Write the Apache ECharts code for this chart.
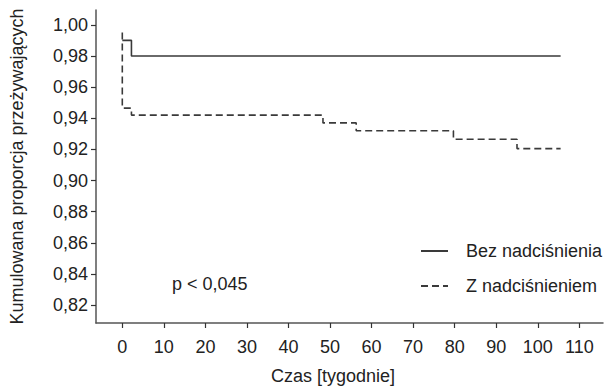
<!DOCTYPE html>
<html>
<head>
<meta charset="utf-8">
<style>html,body{margin:0;padding:0;background:#fff;}#chart{width:604px;height:392px;}</style>
<script src="https://cdn.jsdelivr.net/npm/echarts@6/dist/echarts.min.js"></script>
</head>
<body>
<div id="chart"></div>
<script>
// Data (Kaplan-Meier step curves)
const seriesNames = ['Bez nadciśnienia', 'Z nadciśnieniem'];
const weeksBez = [0, 2.2, 105.5];
const survBez = [0.99, 0.98, 0.98];
const weeksZ = [0, 0, 2.2, 48.3, 56.3, 79.7, 95.0, 105.5];
const survZ = [0.995, 0.9465, 0.942, 0.937, 0.932, 0.9265, 0.9205, 0.9205];
const xTicks = [0, 10, 20, 30, 40, 50, 60, 70, 80, 90, 100, 110];
const yTicks = [0.82, 0.84, 0.86, 0.88, 0.90, 0.92, 0.94, 0.96, 0.98, 1.00];
const pText = 'p < 0,045';
const xTitle = 'Czas [tygodnie]';
const yTitle = 'Kumulowana proporcja przeżywających';

const FONT = "'Liberation Sans', Arial, sans-serif";
const FS = 18;
const TXT = '#222';
const LINE = '#3a3a3a';

const chart = echarts.init(document.getElementById('chart'), null, {renderer: 'svg'});
chart.setOption({
  animation: false,
  backgroundColor: '#fff',
  textStyle: {fontFamily: FONT},
  grid: {left: 96, right: 1, top: 10, bottom: 69, containLabel: false, outerBoundsMode: 'none'},
  xAxis: {
    type: 'value', min: -6.33, max: 115.7,
    name: xTitle, nameLocation: 'middle', nameGap: 44,
    nameTextStyle: {fontSize: FS, color: TXT, fontFamily: FONT, padding: [0, 33, 0, 0]},
    axisLine: {show: true, onZero: false, lineStyle: {color: '#555', width: 1.5}},
    axisTick: {show: true, length: 5, customValues: xTicks, lineStyle: {color: '#333', width: 1.2}},
    axisLabel: {customValues: xTicks, fontSize: FS, color: TXT, fontFamily: FONT, margin: 15,
      formatter: v => String(v)},
    splitLine: {show: false}
  },
  yAxis: {
    type: 'value', min: 0.8085, max: 1.0095,
    name: yTitle, nameLocation: 'middle', nameGap: 70, nameRotate: 90,
    nameTextStyle: {fontSize: FS, color: TXT, fontFamily: FONT},
    axisLine: {show: true, onZero: false, lineStyle: {color: '#555', width: 1.5}},
    axisTick: {show: true, length: 5, customValues: yTicks, lineStyle: {color: '#333', width: 1.2}},
    axisLabel: {customValues: yTicks, fontSize: FS, color: TXT, fontFamily: FONT, margin: 8,
      formatter: v => v.toFixed(2).replace('.', ',')},
    splitLine: {show: false}
  },
  legend: {
    orient: 'vertical', left: 415, top: 237, itemWidth: 27, itemHeight: 14, itemGap: 17,
    itemStyle: {color: 'transparent', borderWidth: 0, opacity: 0},
    textStyle: {fontSize: FS, color: TXT, fontFamily: FONT, padding: [0, 0, 0, 13]},
    data: seriesNames
  },
  graphic: [{
    type: 'text', left: 172, top: 275,
    style: {text: pText, fontSize: FS, fill: TXT, fontFamily: FONT}
  }],
  series: [
    {
      name: seriesNames[0], type: 'line', step: 'end', symbol: 'none',
      data: weeksBez.map((w, i) => [w, survBez[i]]),
      lineStyle: {color: LINE, width: 1.6, type: 'solid'},
      itemStyle: {color: LINE}
    },
    {
      name: seriesNames[1], type: 'line', step: 'end', symbol: 'none',
      data: weeksZ.map((w, i) => [w, survZ[i]]),
      lineStyle: {color: LINE, width: 1.6, type: [7, 4]},
      itemStyle: {color: LINE}
    }
  ]
});
</script>
</body>
</html>
